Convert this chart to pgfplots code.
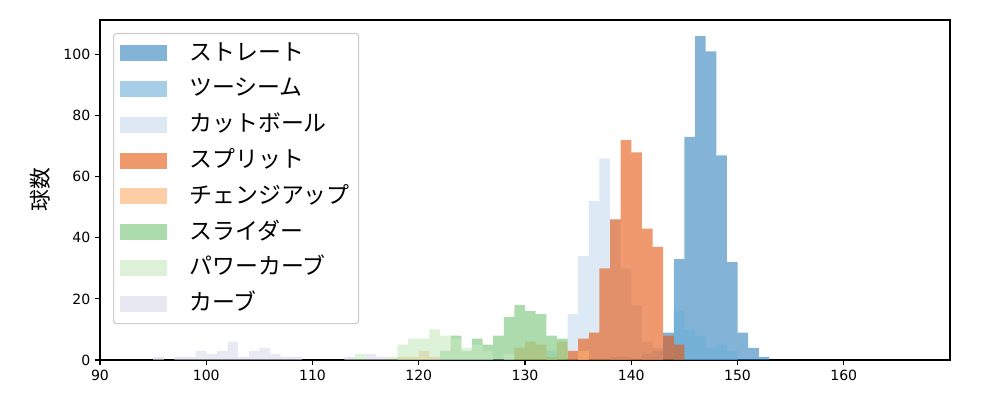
\documentclass[border=0pt]{standalone}
\usepackage{pgfplots}
\pgfplotsset{compat=1.18}
\usepackage{fontspec}
\setmainfont{DejaVu Sans}
\newfontfamily\jp{Noto Sans CJK JP}
\definecolor{cA}{HTML}{3182BD}
\definecolor{cB}{HTML}{6BAED6}
\definecolor{cC}{HTML}{C6DBEF}
\definecolor{cD}{HTML}{E6550D}
\definecolor{cE}{HTML}{FDAE6B}
\definecolor{cF}{HTML}{74C476}
\definecolor{cG}{HTML}{C7E9C0}
\definecolor{cH}{HTML}{DADAEB}
\begin{document}
\begin{tikzpicture}
\useasboundingbox (-2.5cm,-1cm) rectangle (22.5cm,9cm);
\begin{axis}[
  scale only axis, width=21.25cm, height=8.5cm,
  xmin=90, xmax=170, ymin=0, ymax=111.3,
  xtick={90,100,...,160}, ytick={0,20,...,100},
  tick align=outside, tick pos=left,
  major tick length=3.4pt,
  axis line style={line width=0.8pt},
  every tick/.style={line width=0.8pt, black},
  /pgf/number format/assume math mode=true,
  ticklabel style={font=\fontsize{10}{12}\selectfont},
  ylabel={\jp 球数},
  ylabel style={font=\fontsize{15.5}{18}\selectfont, at={(axis description cs:-0.0706,0.5)}, anchor=center},
  ybar, bar width=1,
  every axis plot/.append style={draw=none, fill opacity=0.6, bar shift=0pt, bar width=1},
  legend cell align=left,
  legend image code/.code={\fill[#1, sharp corners] (0cm,-0.2cm) rectangle (1.175cm,0.2cm);},
  legend style={at={(axis description cs:0.0153,0.962)}, anchor=north west,
    draw={rgb,255:red,204;green,204;blue,204}, line width=0.8pt, rounded corners=2pt, fill=white,
    inner xsep=0.17cm, inner ysep=0.195cm, row sep=0.295cm, column sep=0.5cm,
    font=\jp\fontsize{16.3}{19}\selectfont,
    nodes={inner sep=0.05cm, text height=0.42cm, text depth=0.08cm}},
]
\addplot[fill=cA] coordinates {(143.5,9)(144.5,33)(145.5,73)(146.5,106)(147.5,101)(148.5,67)(149.5,32)(150.5,9)(151.5,4)(152.5,1)};
\addlegendentry{ストレート}
\addplot[fill=cB] coordinates {(138.5,1)(139.5,1)(141.5,2)(142.5,3)(144.5,16)(145.5,10)(146.5,8)(147.5,4)(148.5,5)(149.5,3)};
\addlegendentry{ツーシーム}
\addplot[fill=cC] coordinates {(132.5,3)(134.5,15)(135.5,34)(136.5,52)(137.5,66)(138.5,46)(139.5,30)(140.5,18)(141.5,6)(142.5,4)};
\addlegendentry{カットボール}
\addplot[fill=cD] coordinates {(134.5,3)(135.5,7)(136.5,9)(137.5,30)(138.5,46)(139.5,72)(140.5,68)(141.5,43)(142.5,37)(143.5,8)(144.5,5)};
\addlegendentry{スプリット}
\addplot[fill=cE] coordinates {(118.5,1)(119.5,1)(120.5,3)(121.5,1)(129.5,4)(130.5,6)(131.5,5)(132.5,1)(133.5,6)(135.5,3)};
\addlegendentry{チェンジアップ}
\addplot[fill=cF] coordinates {(122.5,3)(123.5,8)(124.5,3)(125.5,7)(126.5,5)(127.5,8)(128.5,14)(129.5,18)(130.5,16)(131.5,15)(132.5,8)(133.5,7)};
\addlegendentry{スライダー}
\addplot[fill=cG] coordinates {(114.5,2)(117.5,1)(118.5,5)(119.5,7)(120.5,7)(121.5,10)(122.5,8)(123.5,7)(124.5,4)(125.5,5)(126.5,3)(128.5,2)};
\addlegendentry{パワーカーブ}
\addplot[fill=cH] coordinates {(95.5,1)(97.5,1)(98.5,1)(99.5,3)(100.5,2)(101.5,3)(102.5,6)(103.5,1)(104.5,3)(105.5,4)(106.5,2)(107.5,1)(108.5,1)(113.5,1)(115.5,2)(116.5,1)};
\addlegendentry{カーブ}
\end{axis}
\end{tikzpicture}
\end{document}
